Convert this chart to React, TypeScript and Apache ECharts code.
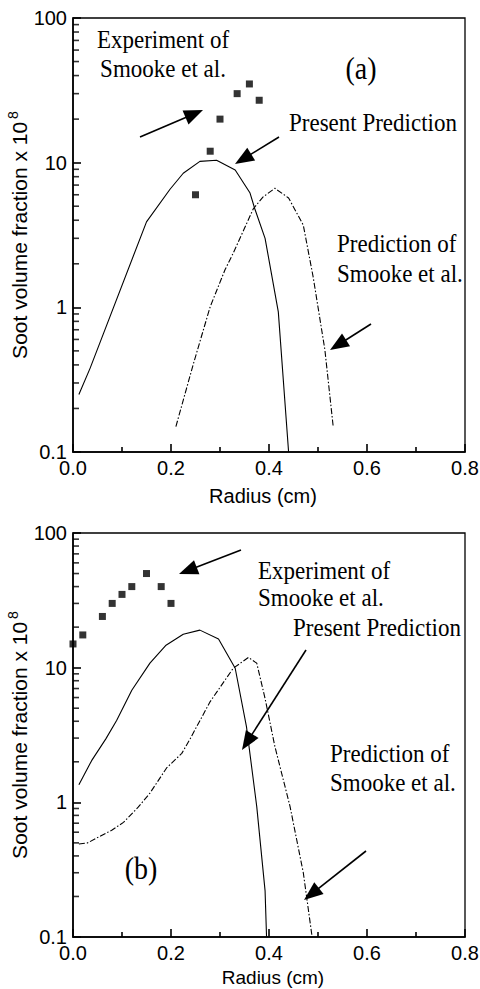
import React, { useEffect, useRef } from "react";
import * as echarts from "echarts";

// ---------- data ----------
const expA: number[][] = [[0.25, 6.0], [0.28, 12], [0.30, 20], [0.335, 30], [0.36, 35], [0.38, 27]];
const presentA: number[][] = [
  [0.012, 0.25], [0.035, 0.38], [0.15, 3.9], [0.198, 6.55], [0.225, 8.45], [0.259, 10.2],
  [0.293, 10.4], [0.331, 8.9], [0.361, 6.2], [0.371, 4.8], [0.392, 3.0], [0.419, 0.93], [0.44, 0.1],
];
const smookeA: number[][] = [
  [0.21, 0.15], [0.246, 0.41], [0.28, 1.01], [0.31, 1.81], [0.327, 2.37], [0.368, 4.8],
  [0.388, 5.8], [0.412, 6.65], [0.44, 5.7], [0.47, 3.7], [0.49, 1.63], [0.514, 0.51], [0.531, 0.15],
];

const expB: number[][] = [
  [0.0, 15], [0.02, 17.5], [0.06, 24], [0.08, 30], [0.10, 35], [0.12, 40], [0.15, 50], [0.18, 40], [0.20, 30],
];
const presentB: number[][] = [
  [0.012, 1.35], [0.038, 2.04], [0.067, 2.96], [0.089, 4.05], [0.12, 6.8], [0.157, 10.8],
  [0.189, 14.6], [0.225, 17.7], [0.259, 19.0], [0.297, 16.3], [0.331, 9.9], [0.354, 3.65],
  [0.375, 0.93], [0.392, 0.22], [0.395, 0.1],
];
const smookeB: number[][] = [
  [0.012, 0.49], [0.03, 0.5], [0.055, 0.56], [0.079, 0.62], [0.103, 0.71], [0.133, 0.92],
  [0.157, 1.17], [0.191, 1.8], [0.222, 2.31], [0.239, 2.96], [0.28, 5.6], [0.327, 9.9],
  [0.358, 11.9], [0.375, 10.8], [0.392, 5.9], [0.412, 2.6], [0.443, 0.93], [0.47, 0.30], [0.488, 0.1],
];

const yTickLabels = ["0.1", "1", "10", "100"];
const minorDecades = [0.1, 1, 10];
const minorSteps = [2, 3, 4, 5, 6, 7, 8, 9];

const SANS = "Liberation Sans";
const SERIF = "Liberation Serif";

function arrow(x1: number, y1: number, x2: number, y2: number) {
  const dx = x2 - x1, dy = y2 - y1;
  const len = Math.sqrt(dx * dx + dy * dy);
  const ux = dx / len, uy = dy / len;
  const nx = -uy, ny = ux;
  const L = 19, W = 7.5;
  const bx = x2 - ux * L, by = y2 - uy * L;
  return [
    {
      type: "line",
      shape: { x1, y1, x2: bx + ux * 4, y2: by + uy * 4 },
      style: { stroke: "#000", lineWidth: 1.6 },
    },
    {
      type: "polygon",
      shape: { points: [[x2, y2], [bx + nx * W, by + ny * W], [bx - nx * W, by - ny * W]] },
      style: { fill: "#000" },
    },
  ];
}

function label(text: string, x: number, y: number, align: string, size = 23) {
  return {
    type: "text",
    x,
    y,
    scaleY: 1.12,
    style: {
      text,
      fontSize: size,
      fontFamily: SERIF,
      fill: "#000",
      align,
      verticalAlign: "middle",
    },
  };
}

export default function App() {
  const ref = useRef<HTMLDivElement>(null);
  useEffect(() => {
    if (!ref.current) return;
    const chart = echarts.init(ref.current, undefined, { renderer: "svg" });

    const minorVals: number[][] = [];
    minorDecades.forEach((d) => minorSteps.forEach((s) => minorVals.push([0, d * s])));

    const grids = [
      { left: 73, top: 18, width: 392, height: 434 },
      { left: 73, top: 533, width: 392, height: 404 },
    ];

    const xAxis = [0, 1].map((i) => ({
      type: "value",
      gridIndex: i,
      min: 0,
      max: 0.8,
      interval: 0.2,
      name: "Radius (cm)",
      nameLocation: "middle",
      nameGap: i === 0 ? 34 : 31,
      nameTextStyle: {
        fontSize: i === 0 ? 20 : 19,
        fontFamily: SANS,
        color: "#000",
        padding: i === 0 ? [0, 0, 0, -12] : [0, 0, 0, 8],
      },
      axisLine: { show: true, lineStyle: { color: "#000", width: 1.6 } },
      axisTick: { show: true, inside: true, length: 8, lineStyle: { color: "#000", width: 1.6 } },
      minorTick: { show: true, splitNumber: 2, length: 5, lineStyle: { color: "#000", width: 1.6 } },
      splitLine: { show: false },
      axisLabel: {
        fontSize: 20,
        fontFamily: SANS,
        color: "#000",
        margin: 6,
        formatter: (v: number) => v.toFixed(1),
      },
    }));

    const yAxis = [0, 1].map((i) => ({
      type: "log",
      logBase: 10,
      gridIndex: i,
      min: 0.1,
      max: 100,
      name: "Soot volume fraction x 10{sup|8}",
      nameLocation: "middle",
      nameRotate: 90,
      nameGap: 41,
      nameMoveOverlap: false,
      nameTextStyle: {
        fontSize: 21,
        fontFamily: SANS,
        color: "#000",
        rich: {
          sup: { fontSize: 14, fontFamily: SANS, color: "#000", padding: [0, 0, 12, 3] },
        },
      },
      axisLine: { show: true, lineStyle: { color: "#000", width: 1.6 } },
      axisTick: { show: true, inside: true, length: 8, lineStyle: { color: "#000", width: 1.6 } },
      splitLine: { show: false },
      axisLabel: {
        fontSize: 20,
        fontFamily: SANS,
        color: "#000",
        margin: 6,
        formatter: (v: number) => yTickLabels[Math.round(Math.log10(v)) + 1] ?? String(v),
      },
    }));

    const lineSeries = (data: number[][], i: number, dashed: boolean) => ({
      type: "line",
      xAxisIndex: i,
      yAxisIndex: i,
      data,
      symbol: "none",
      smooth: false,
      lineStyle: { color: "#000", width: 1.1, type: dashed ? [6, 2, 1.5, 2] : "solid" },
      z: 3,
    });
    const scatterSeries = (data: number[][], i: number) => ({
      type: "scatter",
      xAxisIndex: i,
      yAxisIndex: i,
      data,
      symbol: "rect",
      symbolSize: 7,
      itemStyle: { color: "#000" },
      z: 4,
    });
    // minor log ticks on the y axis (2..9 in each decade), drawn as thin rect symbols
    const minorSeries = (i: number) => ({
      type: "scatter",
      xAxisIndex: i,
      yAxisIndex: i,
      data: minorVals,
      silent: true,
      clip: false,
      symbol: "rect",
      symbolSize: [6, 1.6],
      symbolOffset: [3, 0],
      itemStyle: { color: "#000" },
      z: 5,
    });

    const graphic: any[] = [
      label("Experiment of", 163, 39, "center"),
      label("Smooke et al.", 163, 68, "center"),
      label("(a)", 361, 68, "center", 28),
      label("Present Prediction", 289, 122, "left"),
      label("Prediction of", 337, 243, "left"),
      label("Smooke et al.", 337, 273, "left"),
      ...arrow(140, 137, 203, 110),
      ...arrow(279, 137, 235, 164),
      ...arrow(371, 324, 330, 350),
      label("Experiment of", 258, 570, "left"),
      label("Smooke et al.", 258, 597, "left"),
      label("Present Prediction", 293, 627, "left"),
      label("Prediction of", 330, 753, "left"),
      label("Smooke et al.", 330, 782, "left"),
      label("(b)", 141, 868, "center", 28),
      ...arrow(241, 550, 179, 574),
      ...arrow(306, 650, 242, 750),
      ...arrow(366, 851, 304, 900),
    ];

    chart.setOption({
      animation: false,
      backgroundColor: "#fff",
      grid: grids.map((g) => ({
        ...g,
        show: true,
        borderColor: "#000",
        borderWidth: 1.3,
        backgroundColor: "transparent",
        containLabel: false,
        outerBoundsMode: "none",
      })),
      xAxis,
      yAxis,
      series: [
        lineSeries(presentA, 0, false),
        lineSeries(smookeA, 0, true),
        scatterSeries(expA, 0),
        minorSeries(0),
        lineSeries(presentB, 1, false),
        lineSeries(smookeB, 1, true),
        scatterSeries(expB, 1),
        minorSeries(1),
      ],
      graphic,
    });
    return () => chart.dispose();
  }, []);
  return (
    <div
      ref={ref}
      style={{ position: "absolute", left: 0, top: 0, width: 480, height: 989 }}
    />
  );
}
